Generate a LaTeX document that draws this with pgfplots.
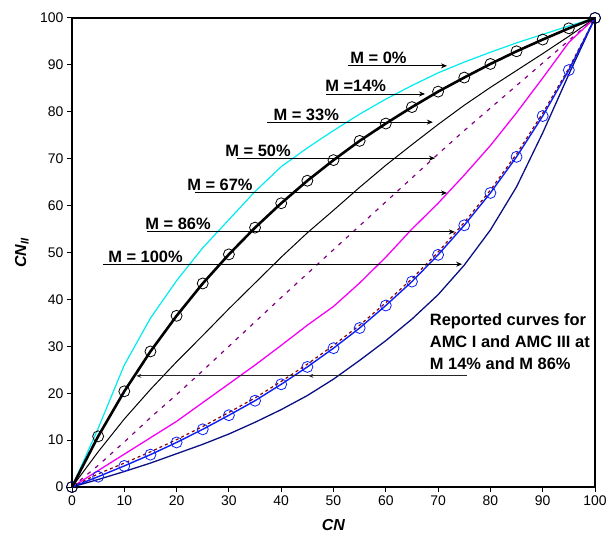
\documentclass[border=0pt]{standalone}
\usepackage{fontspec}
\setmainfont{Liberation Sans}
\usepackage{pgfplots}
\pgfplotsset{compat=1.18}
\usetikzlibrary{arrows.meta}

\definecolor{mcyan}{RGB}{0,235,240}
\definecolor{mpurple}{RGB}{128,0,128}
\definecolor{mmagenta}{RGB}{245,0,245}
\definecolor{mblue}{RGB}{10,30,245}
\definecolor{mnavy}{RGB}{10,15,130}
\definecolor{mdarkred}{RGB}{140,0,0}

% CN (AMC II) on x; one column per moisture level M
\pgfplotstableread{
cn   m0    m14   m33   m50   m67   m86   m100
0    0     0     0     0     0     0     0
5    12.5  10.8  7.5   4.6   3.5   2.2   1.6
10   26.0  20.4  14.5  9.6   7.0   4.5   3.3
15   36.0  28.9  20.8  14.8  10.5  6.9   5.1
20   44.0  36.5  26.7  19.7  14.0  9.5   7.1
25   51.0  43.4  32.3  24.8  18.0  12.3  9.1
30   57.0  49.6  38.0  30.0  22.0  15.3  11.3
35   63.0  55.3  43.5  35.2  26.0  18.4  13.8
40   68.3  60.5  49.0  40.4  30.2  21.9  16.5
45   72.3  65.3  54.2  45.5  34.5  25.6  19.5
50   76.0  69.7  59.0  50.6  38.5  29.6  23.0
55   79.5  73.8  63.9  55.7  43.5  33.9  27.0
60   82.7  77.5  68.6  60.8  49.0  38.7  31.2
65   85.6  81.0  73.0  65.9  55.0  43.8  35.8
70   88.3  84.3  77.3  71.0  60.5  49.5  41.0
75   90.6  87.3  81.4  76.0  66.5  55.8  47.3
80   92.7  90.2  85.2  80.8  72.8  62.7  54.8
85   94.7  92.9  88.8  85.6  79.8  70.4  64.0
90   96.5  95.4  92.4  90.4  87.2  79.1  75.5
95   98.3  97.8  96.1  95.2  94.8  88.9  88.0
100  100   100   100   100   100   100   100
}\cntable

% reported AMC III / AMC I curves
\pgfplotstableread{
cn   amc3  amc1
0    0     0
5    10.8  2.8
10   20.4  5.1
15   28.9  7.5
20   36.5  10.1
25   43.4  12.9
30   49.6  15.9
35   55.3  19.0
40   60.5  22.5
45   65.3  26.2
50   69.7  30.2
55   73.8  34.5
60   77.5  39.3
65   81.0  44.4
70   84.3  50.1
75   87.3  56.4
80   90.2  63.3
85   92.9  71.0
90   95.4  79.7
95   97.8  89.3
100  100   100
}\reported

\begin{document}
\begin{tikzpicture}
\path[use as bounding box] (-72bp,-51bp) rectangle (543bp,487bp);
\begin{axis}[
  at={(0,0)}, anchor=south west,
  scale only axis, width=523bp, height=469bp,
  xmin=0, xmax=100, ymin=0, ymax=100,
  xtick={0,10,...,100}, ytick={0,10,...,100},
  tick align=outside, tick pos=left,
  major tick length=5bp,
  every tick/.style={black, line width=1pt},
  axis line style={line width=1.3pt},
  tick label style={font=\fontsize{14}{16}\selectfont},
  /pgf/number format/assume math mode=true,
  xlabel={\textbf{\textit{CN}}},
  ylabel={\textbf{\textit{CN}\textsubscript{\textit{II}}}},
  label style={font=\fontsize{16}{18}\selectfont},
  xlabel style={at={(axis description cs:0.5,-0.081)}, anchor=center},
  ylabel style={at={(axis description cs:-0.096,0.5)}, anchor=center},
  clip=false,
  mark size=5.5bp,
]
\addplot[mcyan, line width=1.2pt] table[x=cn, y=m0] {\cntable};
\addplot[black, line width=1pt] table[x=cn, y=m33] {\cntable};
\addplot[mpurple, line width=1.2pt, dash pattern=on 4bp off 6bp] table[x=cn, y=m50] {\cntable};
\addplot[mmagenta, line width=1.3pt] table[x=cn, y=m67] {\cntable};
\addplot[mnavy, line width=1.3pt] table[x=cn, y=m100] {\cntable};
\addplot[mdarkred, line width=1.2pt, dash pattern=on 3bp off 3bp] table[x=cn, y=amc1] {\reported};
\addplot[mblue, line width=1.4pt, mark=o, mark options={solid, line width=0.8pt}] table[x=cn, y=m86] {\cntable};
\addplot[black, line width=2.6pt, mark=o, mark options={solid, line width=0.8pt}] table[x=cn, y=m14] {\cntable};

% labelled arrows for each moisture level
\tikzset{marr/.style={black, line width=0.9pt, -{Stealth[length=6bp,width=5bp]}},
         mlab/.style={anchor=base west, inner sep=0pt, font=\bfseries\fontsize{16.5}{18}\selectfont}}
\draw[marr] (axis cs:52.8,89.8) -- (axis cs:71.7,89.8);
\node[mlab] at ([yshift=2bp]axis cs:53.2,89.8) {M = 0\%};
\draw[marr] (axis cs:48.6,83.8) -- (axis cs:67.5,83.8);
\node[mlab] at ([yshift=2bp]axis cs:48.4,83.8) {M =14\%};
\draw[marr] (axis cs:37.3,77.8) -- (axis cs:69.0,77.8);
\node[mlab] at ([yshift=2bp]axis cs:38.5,77.8) {M = 33\%};
\draw[marr] (axis cs:31.5,70.1) -- (axis cs:69.4,70.1);
\node[mlab] at ([yshift=2bp]axis cs:29.3,70.1) {M = 50\%};
\draw[marr] (axis cs:23.5,62.7) -- (axis cs:71.7,62.7);
\node[mlab] at ([yshift=2bp]axis cs:22.0,62.7) {M = 67\%};
\draw[marr] (axis cs:14.3,54.4) -- (axis cs:73.2,54.4);
\node[mlab] at ([yshift=2bp]axis cs:14.0,54.4) {M = 86\%};
\draw[marr] (axis cs:5.9,47.5) -- (axis cs:74.6,47.5);
\node[mlab] at ([yshift=2bp]axis cs:6.9,47.5) {M = 100\%};

\draw[black!85, line width=0.8pt, -{Stealth[length=5bp,width=4bp]}] (axis cs:75.5,23.7) -- (axis cs:12.3,23.7);
\draw[black!85, line width=0.8pt, -{Stealth[length=5bp,width=4bp]}] (axis cs:75.5,23.7) -- (axis cs:45.2,23.7);
\node[anchor=north west, inner sep=0pt, align=left,
      font=\bfseries\fontsize{16.5}{22}\selectfont]
  at (axis cs:68.4,37.0) {Reported curves for\\AMC I and AMC III at\\M 14\% and M 86\%};
\end{axis}
\end{tikzpicture}
\end{document}
